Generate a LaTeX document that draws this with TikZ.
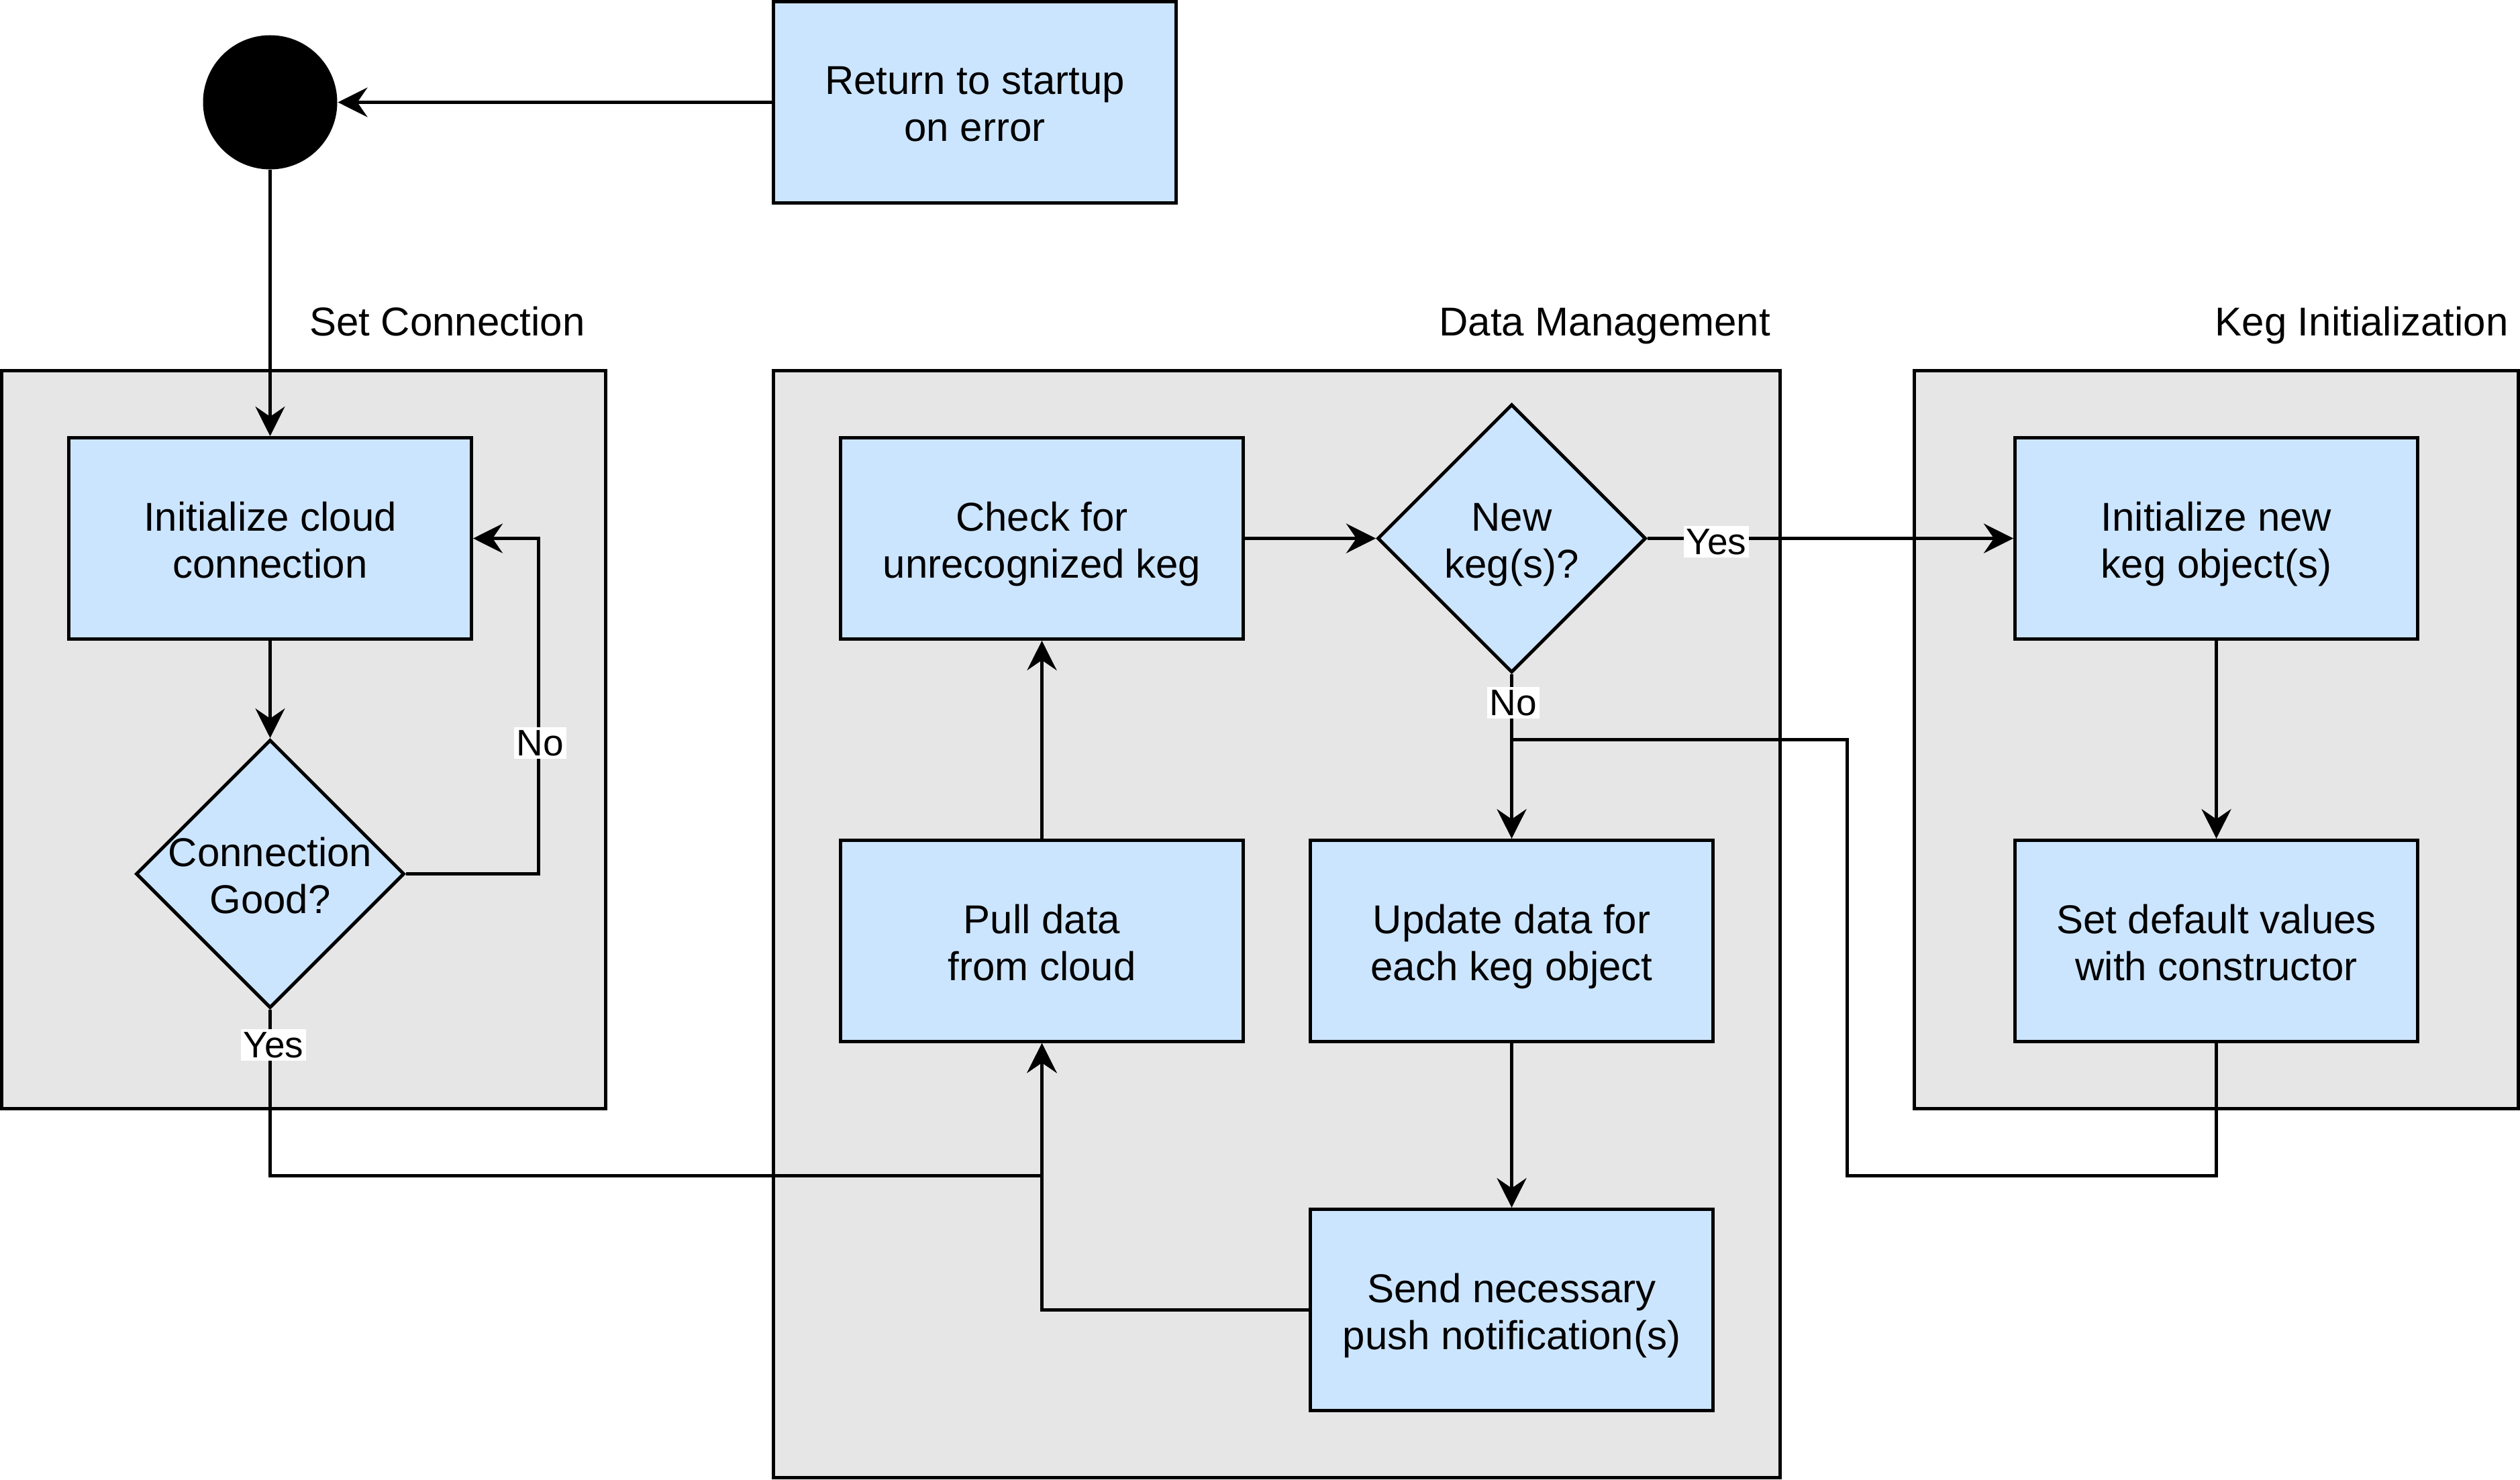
\documentclass[tikz,border=0pt]{standalone}
\usepackage{fontspec}
\setmainfont{Liberation Sans}
\usetikzlibrary{shapes.geometric,arrows.meta}
\definecolor{boxblue}{HTML}{CCE5FF}
\definecolor{groupgray}{HTML}{E6E6E6}
\newcommand{\topstrut}{\rule{0pt}{12.4pt}}
\newcommand{\botstrut}{\rule[-3pt]{0pt}{3pt}}
\newcommand{\twolines}[2]{\topstrut#1\\#2\botstrut}
\begin{document}
\begin{tikzpicture}[x=1pt,y=-1pt,
  every node/.style={font=\fontsize{12}{14}\selectfont},
  group/.style={draw, fill=groupgray, line width=1pt, inner sep=0pt},
  grouplbl/.style={anchor=base east, inner sep=0pt},
  proc/.style={draw, fill=boxblue, line width=1pt, minimum width=120pt, minimum height=60pt, inner sep=0pt, align=center},
  dec/.style={draw, fill=boxblue, diamond, line width=1pt, minimum width=80pt, minimum height=80pt, inner sep=0pt},
  dectxt/.style={align=center, inner sep=0pt},
  conn/.style={line width=1pt, draw=black},
  arr/.style={conn, -{Stealth[length=8.8pt, width=8.8pt, inset=3pt]}},
  elbl/.style={fill=white, inner sep=0.8pt, font=\fontsize{11}{13}\selectfont}
]
\useasboundingbox (-0.5,-0.5) rectangle (750.5,440.5);

% containers
\node[group, minimum width=180pt, minimum height=220pt] (gsc) at (90,220) {};
\node[group, minimum width=300pt, minimum height=330pt] (gdm) at (380,275) {};
\node[group, minimum width=180pt, minimum height=220pt] (gki) at (660,220) {};
\node[grouplbl] (lsc) at (174,99.7) {Set Connection};
\node[grouplbl] (ldm) at (527.3,99.7) {Data Management};
\node[grouplbl] (lki) at (747.2,99.7) {Keg Initialization};

% nodes
\node[circle, fill=black, minimum size=40pt, inner sep=0pt] (start) at (80,30) {};
\node[proc] (ret) at (290,30) {\twolines{Return to startup}{on error}};
\node[proc] (icc) at (80,160) {\twolines{Initialize cloud}{connection}};
\node[dec, label={[dectxt]center:\twolines{Connection}{Good?}}] (cg) at (80,260) {};
\node[proc] (chk) at (310,160) {\twolines{Check for}{unrecognized keg}};
\node[dec, label={[dectxt]center:\twolines{New}{keg(s)?}}] (nk) at (450,160) {};
\node[proc] (ink) at (660,160) {\twolines{Initialize new}{keg object(s)}};
\node[proc] (pull) at (310,280) {\twolines{Pull data}{from cloud}};
\node[proc] (upd) at (450,280) {\twolines{Update data for}{each keg object}};
\node[proc] (sdv) at (660,280) {\twolines{Set default values}{with constructor}};
\node[proc] (send) at (450,390) {\twolines{Send necessary}{push notification(s)}};

\coordinate (join) at (450,220);

% connectors
\draw[arr] (ret.west) -- (start.east);
\draw[arr] (start.south) -- (icc.north);
\draw[arr] (icc.south) -- (cg.north);
\draw[arr] (cg.east) -- (160,260) -- (160,160) -- (icc.east);
\draw[arr] (cg.south) -- (80,350) -| (pull.south);
\draw[arr] (pull.north) -- (chk.south);
\draw[arr] (chk.east) -- (nk.west);
\draw[arr] (nk.east) -- (ink.west);
\draw[arr] (nk.south) -- (upd.north);
\draw[arr] (ink.south) -- (sdv.north);
\draw[conn] (sdv.south) -- (660,350) -| (550,220) -- (join);
\draw[arr] (upd.south) -- (send.north);
\draw[arr] (send.west) -| (pull.south);

% edge labels
\node[elbl] (lno1) at (160.5,221) {No};
\node[elbl] (lyes1) at (81,311) {Yes};
\node[elbl] (lyes2) at (511,161) {Yes};
\node[elbl] (lno2) at (450.5,209) {No};
\end{tikzpicture}
\end{document}
